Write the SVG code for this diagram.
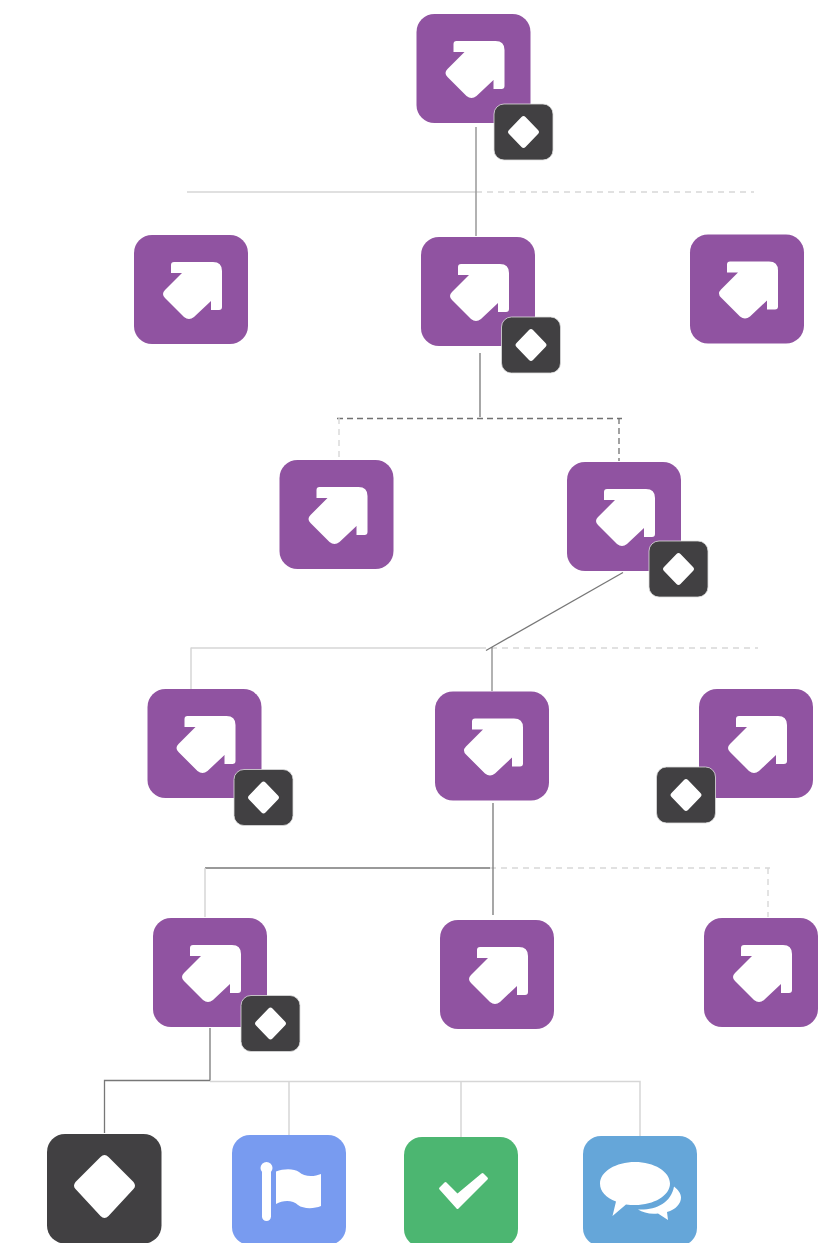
<svg xmlns="http://www.w3.org/2000/svg" xmlns:xlink="http://www.w3.org/1999/xlink" width="820" height="1243" viewBox="0 0 820 1243">
<style>
.p{fill:#9053a1}
.i{fill:#fff}
.b{fill:#414042;stroke:#ddd;stroke-width:.8}
line,path.l{fill:none}
.d{stroke:#777;stroke-width:1.3}
.m{stroke:#999;stroke-width:1.5}
.g{stroke:#d6d6d6;stroke-width:1.5}
.gd{stroke:#d8d8d8;stroke-width:1.4;stroke-dasharray:6 5}
.dd{stroke:#707070;stroke-width:1.3;stroke-dasharray:6 4}
</style>
<defs>
<g id="task"><rect class="p" width="114" height="109" rx="18"/><path class="i" d="M37 30q0-3 3-3H79q9 0 9 9V72q0 3-3 3H77V66L60 82q-5 4-10 0L31 63q-4-4 0-8L48 38H37z"/></g>
<g id="badge"><rect class="b" width="59" height="56" rx="10"/><path class="i" d="M27.500 13q2-2 4 0L44 26q2 2 0 4L31.500 43q-2 2-4 0L15 30q-2-2 0-4z"/></g>
</defs>
<g id="connectors">
<line class="g" x1="187" y1="192" x2="476" y2="192"/>
<line class="gd" x1="476" y1="192" x2="754" y2="192"/>
<line class="m" x1="476" y1="127" x2="476" y2="236"/>
<line class="d" x1="480" y1="353" x2="480" y2="417"/>
<line class="dd" x1="337" y1="418.500" x2="622" y2="418.500"/>
<line class="gd" x1="339" y1="418" x2="339" y2="460"/>
<line class="dd" x1="619" y1="418" x2="619" y2="461"/>
<line class="g" x1="191" y1="648" x2="480" y2="648"/>
<line class="gd" x1="480" y1="648" x2="758" y2="648"/>
<line class="g" x1="191" y1="647.500" x2="191" y2="689"/>
<line class="m" x1="492" y1="647" x2="492" y2="691"/>
<line class="d" x1="623" y1="572.500" x2="486" y2="650.500"/>
<line class="d" x1="205" y1="868" x2="490" y2="868"/>
<line class="gd" x1="490" y1="868" x2="770" y2="868"/>
<line class="g" x1="205" y1="868" x2="205" y2="917"/>
<line class="gd" x1="768" y1="868" x2="768" y2="917"/>
<line class="d" x1="493" y1="803" x2="493" y2="915"/>
<path class="l g" d="M210 1081.500H640V1136"/>
<line class="g" x1="289" y1="1082" x2="289" y2="1135"/>
<line class="g" x1="461" y1="1082" x2="461" y2="1137"/>
<line class="d" x1="210" y1="1028" x2="210" y2="1080.500"/>
<path class="l d" d="M210 1080.500H104.500V1133"/>
</g>
<use id="node-1" xlink:href="#task" href="#task" x="416.500" y="14"/>
<use id="node-2" xlink:href="#task" href="#task" x="134" y="235"/>
<use id="node-3" xlink:href="#task" href="#task" x="421" y="237"/>
<use id="node-4" xlink:href="#task" href="#task" x="690" y="234.500"/>
<use id="node-5" xlink:href="#task" href="#task" x="279.500" y="460"/>
<use id="node-6" xlink:href="#task" href="#task" x="567" y="462"/>
<use id="node-7" xlink:href="#task" href="#task" x="147.500" y="689"/>
<use id="node-8" xlink:href="#task" href="#task" x="435" y="691.500"/>
<use id="node-9" xlink:href="#task" href="#task" x="699" y="689"/>
<use id="node-10" xlink:href="#task" href="#task" x="153" y="918"/>
<use id="node-11" xlink:href="#task" href="#task" x="440" y="920"/>
<use id="node-12" xlink:href="#task" href="#task" x="704" y="918"/>
<use id="badge-1" xlink:href="#badge" href="#badge" x="494" y="104"/>
<use id="badge-2" xlink:href="#badge" href="#badge" x="501.500" y="317"/>
<use id="badge-3" xlink:href="#badge" href="#badge" x="649" y="541"/>
<use id="badge-4" xlink:href="#badge" href="#badge" x="234" y="769.500"/>
<use id="badge-5" xlink:href="#badge" href="#badge" x="656.500" y="767"/>
<use id="badge-6" xlink:href="#badge" href="#badge" x="241" y="995.500"/>
<g id="node-gateway"><rect x="47" y="1134" width="114.500" height="109.500" rx="18" fill="#414042"/><path class="i" d="M100.500 1157q4-4 8 0l25 25q3 4 0 7l-25 27q-4 4-8 0l-25-27q-3-3 0-7z"/></g>
<g id="node-flag"><rect x="232" y="1135" width="114" height="110" rx="18" fill="#789bf0"/><circle class="i" cx="266.500" cy="1168" r="6"/><rect class="i" x="262" y="1168" width="9" height="53" rx="4.500"/><path class="i" d="M276 1171.500c8-3 18-3 23 .5c5 5 15 5 22 2V1206c-7 3-18 3-23-1c-5-5-15-5-22-1z"/></g>
<g id="node-check"><rect x="404" y="1137" width="114" height="110" rx="18" fill="#4cb671"/><path class="i" d="M439.500 1189.500q-1-1 0-2l5-5q1-1 2 0l11 11l24-20q1-1 2 0l4 4q1 1 0 2l-29 29q-1 1-2 0z"/></g>
<g id="node-chat"><rect x="583" y="1136" width="114" height="110" rx="18" fill="#65a6d9"/><path class="i" d="M635 1162c19 0 35 9.500 35 21.500c0 12-16 21.500-35 21.500c-3 0-6 0-9 -.5l-13.500 11.500l3.500-14.500c-10-4-16-10-16-18c0-12 16-21.500 35-21.500z"/><path class="i" d="M674 1186.500c4 3 7 7 7 11c0 6-5 12-14 14.500l1 8l-10-6.500c-8 1-15-1-20-4c17 1 33-6 36-23z"/></g>
</svg>
